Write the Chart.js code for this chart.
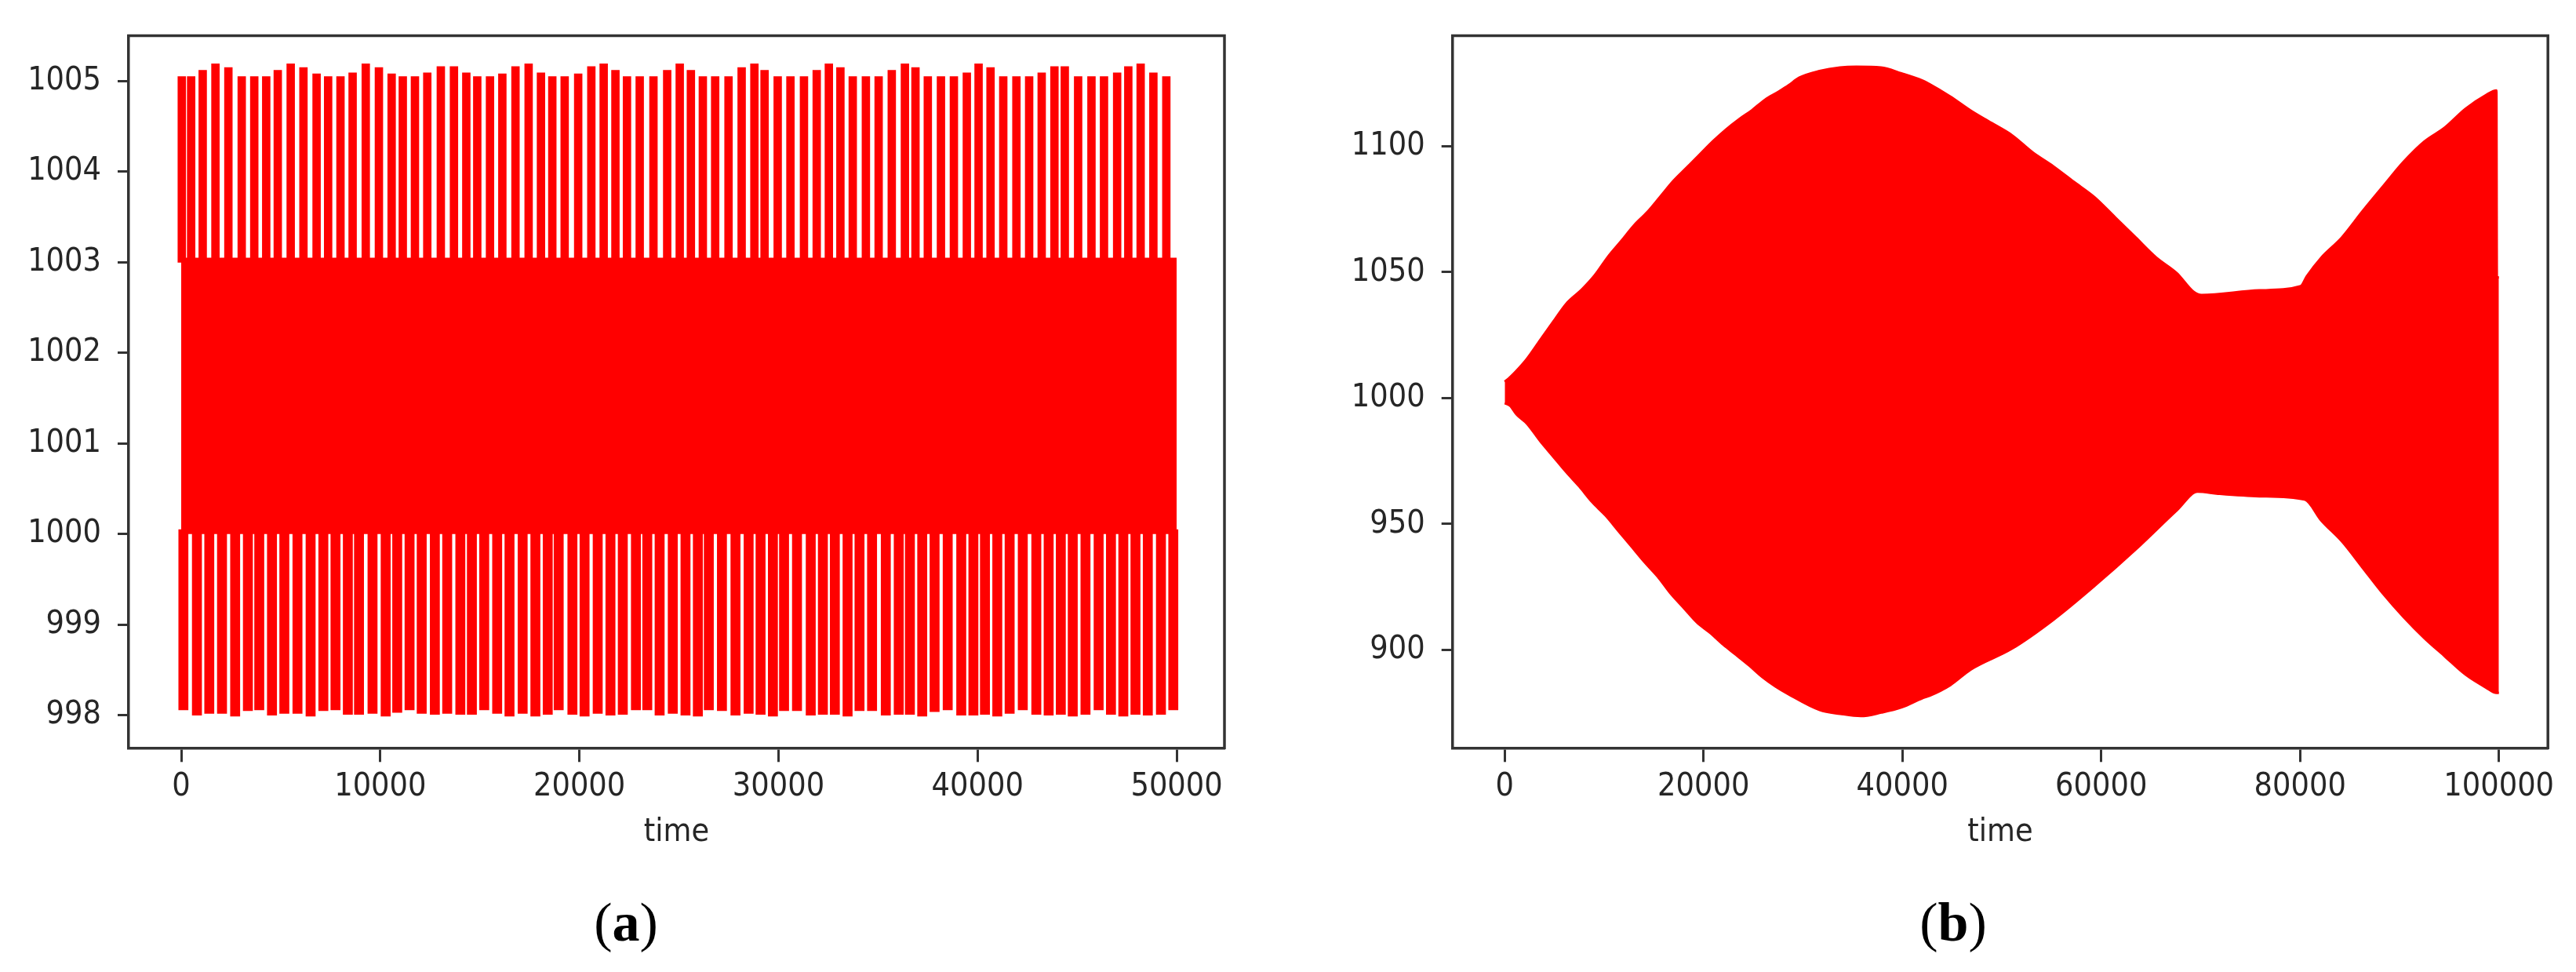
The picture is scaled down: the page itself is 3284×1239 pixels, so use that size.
<!DOCTYPE html>
<html>
<head>
<meta charset="utf-8">
<script src="https://cdn.jsdelivr.net/npm/chart.js@4.4.1/dist/chart.umd.min.js"></script>
<style>
  html, body { margin: 0; padding: 0; background: #ffffff; width: 3284px; height: 1239px; overflow: hidden; }
  body { position: relative; }
  #wa { position: absolute; left: 0; top: 0; width: 1640px; height: 1120px; }
  #wb { position: absolute; left: 1640px; top: 0; width: 1644px; height: 1120px; }
  .cap { position: absolute; top: 1141px; font-family: 'Liberation Serif', 'Times New Roman', serif; font-size: 70px; line-height: 1; color: #000; white-space: nowrap; transform: translateX(-50%); }
</style>
</head>
<body>
<div id="wa"><canvas id="ca" width="1640" height="1120"></canvas></div>
<div id="wb"><canvas id="cb" width="1644" height="1120"></canvas></div>
<div class="cap" style="left:798px">(<b>a</b>)</div>
<div class="cap" style="left:2490px">(<b>b</b>)</div>
<script>
// ---------------- Panel (a) data ----------------
const timeTicksA = [0, 10000, 20000, 30000, 40000, 50000];
const valueTicksA = [998, 999, 1000, 1001, 1002, 1003, 1004, 1005];

// dense oscillation band (envelope of the fast oscillation)
const bandTimesA = [0, 50000];
const bandUpperA = [1003.05, 1003.05];
const bandLowerA = [1000.0, 1000.0];

// tall upward spikes (time, peak value)
const peakTimesA = [30, 500, 1080, 1720, 2370, 3040, 3670, 4270, 4850, 5500,
  6140, 6800, 7380, 8000, 8610, 9270, 9930, 10570, 11130, 11740,
  12360, 13040, 13700, 14320, 14870, 15510, 16130, 16790, 17450, 18070,
  18640, 19260, 19940, 20600, 21220, 21810, 22390, 23030,
  23720, 24410, 25040, 25600, 26200, 26820, 27490, 28150, 28790, 29300,
  29960, 30600, 31280, 31920, 32530, 33110, 33730, 34390, 35030, 35690,
  36350, 36880, 37500, 38160, 38810, 39460, 40050, 40650, 41290, 41950,
  42590, 43220, 43860, 44380, 45050, 45720, 46350, 47010, 47570, 48190,
  48830, 49480];
const peakValuesA = [1005.05, 1005.05, 1005.12, 1005.19, 1005.15, 1005.05, 1005.05, 1005.05, 1005.12, 1005.19,
  1005.15, 1005.08, 1005.05, 1005.05, 1005.09, 1005.19, 1005.15, 1005.08, 1005.05, 1005.05,
  1005.09, 1005.16, 1005.16, 1005.09, 1005.05, 1005.05, 1005.08, 1005.16, 1005.19, 1005.09,
  1005.05, 1005.05, 1005.08, 1005.16, 1005.19, 1005.12, 1005.05, 1005.05,
  1005.05, 1005.12, 1005.19, 1005.12, 1005.05, 1005.05, 1005.05, 1005.15, 1005.19, 1005.12,
  1005.05, 1005.05, 1005.05, 1005.12, 1005.19, 1005.15, 1005.05, 1005.05, 1005.05, 1005.12,
  1005.19, 1005.15, 1005.05, 1005.05, 1005.05, 1005.09, 1005.19, 1005.15, 1005.05, 1005.05,
  1005.05, 1005.09, 1005.16, 1005.16, 1005.05, 1005.05, 1005.05, 1005.09, 1005.16, 1005.19,
  1005.09, 1005.05];

// deep downward spikes (time, trough value)
const troughTimesA = [110, 790, 1410, 2050, 2710, 3350, 3920, 4560, 5180, 5840,
  6500, 7140, 7750, 8370, 8930, 9610, 10270, 10850, 11470, 12080,
  12740, 13360, 14020, 14600, 15220, 15870, 16490, 17150, 17790, 18410,
  18960, 19650, 20260, 20920, 21560, 22180, 22840,
  23410, 24030, 24690, 25330, 25950, 26500, 27160, 27840, 28500, 29100,
  29720, 30280, 30930, 31620, 32230, 32830, 33470, 34070, 34700, 35390,
  36040, 36600, 37220, 37840, 38500, 39180, 39790, 40370, 40990, 41610,
  42270, 42950, 43570, 44180, 44780, 45420, 46080, 46700, 47320, 47930,
  48550, 49210, 49830];
const troughValuesA = [998.06, 998.00, 998.02, 998.02, 997.99, 998.05, 998.06, 998.00, 998.02, 998.02,
  997.99, 998.05, 998.06, 998.01, 998.01, 998.02, 997.99, 998.03, 998.06, 998.02,
  998.01, 998.02, 998.01, 998.01, 998.06, 998.02, 997.99, 998.02, 997.99, 998.01,
  998.06, 998.01, 997.99, 998.02, 998.00, 998.01, 998.06,
  998.06, 998.00, 998.02, 998.00, 997.99, 998.06, 998.05, 998.00, 998.02, 998.01,
  997.99, 998.05, 998.05, 998.00, 998.01, 998.01, 997.99, 998.05, 998.05, 998.00,
  998.01, 998.01, 997.99, 998.04, 998.06, 998.00, 998.00, 998.01, 997.99, 998.02,
  998.06, 998.01, 998.00, 998.01, 997.99, 998.01, 998.06, 998.01, 997.99, 998.01,
  998.00, 998.01, 998.06];

// ---------------- Panel (b) data ----------------
const timeTicksB = [0, 20000, 40000, 60000, 80000, 100000];
const valueTicksB = [900, 950, 1000, 1050, 1100];

const upperTimesB = [0, 529, 1184, 2241, 3551, 4868, 6186, 7764, 9073, 10391,
  11709, 13018, 14336, 15654, 16963, 18281, 19599, 20908, 22226, 23544,
  24853, 26171, 27489, 28538, 29596, 31662, 33722, 35370, 37848, 39908,
  41976, 42740, 44815, 46882, 48957, 51032, 53107, 55175, 57250, 59325,
  61401, 63468, 65543, 67618, 69275, 70104, 75909, 80062, 80677, 82129,
  84204, 86279, 88346, 90422, 92496, 94571, 96639, 98714, 99755, 99800, 100000];
const upperValuesB = [1006.5, 1008.3, 1010.9, 1015.7, 1023.0, 1030.3, 1037.5, 1043.2, 1048.9, 1056.2,
  1062.4, 1068.7, 1073.9, 1080.1, 1086.3, 1091.5, 1096.7, 1101.9, 1106.6, 1110.7,
  1114.3, 1118.5, 1121.6, 1124.2, 1127.2, 1129.9, 1131.3, 1131.6, 1131.3, 1129.0,
  1126.2, 1124.7, 1119.8, 1114.2, 1109.3, 1104.4, 1097.6, 1092.1, 1085.9, 1079.8,
  1071.8, 1063.8, 1055.8, 1049.6, 1042.3, 1041.0, 1042.8, 1044.5, 1048.4, 1055.8,
  1063.8, 1074.2, 1084.1, 1093.9, 1101.9, 1107.5, 1114.9, 1120.4, 1122.2, 1048.0, 1048.0];

const lowerTimesB = [0, 529, 1184, 2241, 3551, 4868, 6186, 7496, 8813, 10131,
  11441, 12758, 14076, 15386, 16703, 18021, 19331, 20648, 21966, 23276,
  24593, 25911, 27221, 28538, 31686, 33753, 35813, 37879, 39939, 42007,
  42740, 44815, 46882, 51032, 55175, 59325, 63468, 67618, 69693, 71758,
  75909, 80469, 82129, 84204, 86279, 88346, 90422, 92496, 94571, 96639,
  98714, 99755, 100000];
const lowerValuesB = [998.0, 997.0, 993.5, 989.8, 983.0, 976.8, 970.6, 964.9, 958.6, 953.4,
  947.2, 941.0, 934.8, 929.1, 922.3, 916.6, 910.9, 906.8, 902.1, 898.0,
  893.8, 889.2, 885.5, 882.4, 876.1, 874.6, 873.7, 875.1, 877.2, 880.8,
  881.8, 886.0, 892.2, 900.5, 911.9, 925.4, 939.9, 955.5, 962.8, 962.0,
  961.0, 959.7, 951.4, 943.1, 932.7, 922.3, 913.0, 904.7, 897.4, 890.2,
  885.0, 882.9, 882.9];

// ---------------- styling ----------------
const RED = '#ff0000';
const INK = '#262626';
const SPINE = '#333333';
const FONT = { family: "'DejaVu Sans Condensed', 'DejaVu Sans', sans-serif", size: 41 };

const zip = (xs, ys) => xs.map((x, i) => ({ x: x, y: ys[i] }));

const framePlugin = {
  id: 'frame',
  afterDraw(chart) {
    const { ctx, chartArea: a } = chart;
    ctx.save();
    ctx.strokeStyle = SPINE;
    ctx.lineWidth = 3.5;
    ctx.beginPath();
    ctx.moveTo(a.left - 1.75, a.top);
    ctx.lineTo(a.right, a.top);
    ctx.lineTo(a.right, a.bottom + 1.75);
    ctx.stroke();
    ctx.restore();
  }
};

function scalesFor(xMin, xMax, xTicks, yMin, yMax, yTicks, yWidth) {
  return {
    x: {
      type: 'linear', min: xMin, max: xMax, offset: false,
      afterBuildTicks: s => { s.ticks = xTicks.map(v => ({ value: v })); },
      afterFit: s => { s.height = 166.7; },
      grid: { display: true, drawOnChartArea: false, drawTicks: true, tickLength: 18, tickWidth: 3, tickColor: SPINE, offset: false },
      border: { display: true, color: SPINE, width: 3.5 },
      ticks: { font: FONT, color: INK, padding: 7, maxRotation: 0, autoSkip: false, callback: v => String(v) },
      title: { display: true, text: 'time', font: FONT, color: INK, padding: { top: 0, bottom: 34 } }
    },
    y: {
      type: 'linear', min: yMin, max: yMax,
      afterBuildTicks: s => { s.ticks = yTicks.map(v => ({ value: v })); },
      afterFit: s => { s.width = yWidth; },
      grid: { display: true, drawOnChartArea: false, drawTicks: true, tickLength: 14, tickWidth: 3, tickColor: SPINE },
      border: { display: true, color: SPINE, width: 3.5 },
      ticks: { font: FONT, color: INK, padding: 21, autoSkip: false, callback: v => String(v) }
    }
  };
}

const common = {
  responsive: false,
  animation: false,
  devicePixelRatio: 1,
  events: [],
  plugins: { legend: { display: false }, tooltip: { enabled: false } }
};

// ---------------- Chart (a) ----------------
new Chart(document.getElementById('ca'), {
  type: 'line',
  data: {
    datasets: [
      { label: 'band upper', data: zip(bandTimesA, bandUpperA), fill: '+1', backgroundColor: RED, borderWidth: 0, pointRadius: 0, tension: 0 },
      { label: 'band lower', data: zip(bandTimesA, bandLowerA), fill: false, borderWidth: 0, pointRadius: 0, tension: 0 },
      { type: 'bar', label: 'peaks', data: peakTimesA.map((t, i) => ({ x: t, y: [1003.0, peakValuesA[i]] })),
        backgroundColor: RED, borderWidth: 0, barThickness: 10, grouped: false },
      { type: 'bar', label: 'troughs', data: troughTimesA.map((t, i) => ({ x: t, y: [troughValuesA[i], 1000.05] })),
        backgroundColor: RED, borderWidth: 0, barThickness: 12, grouped: false }
    ]
  },
  options: Object.assign({}, common, {
    layout: { padding: { left: 0, top: 45, right: 79, bottom: 0 } },
    scales: scalesFor(-2640, 52400, timeTicksA, 997.64, 1005.5, valueTicksA, 164)
  }),
  plugins: [framePlugin]
});

// ---------------- Chart (b) ----------------
new Chart(document.getElementById('cb'), {
  type: 'line',
  data: {
    datasets: [
      { label: 'upper envelope', data: zip(upperTimesB, upperValuesB), fill: '+1', backgroundColor: RED, borderColor: RED, borderWidth: 3, pointRadius: 0, cubicInterpolationMode: 'monotone' },
      { label: 'lower envelope', data: zip(lowerTimesB, lowerValuesB), fill: false, borderColor: RED, borderWidth: 3, pointRadius: 0, cubicInterpolationMode: 'monotone' }
    ]
  },
  options: Object.assign({}, common, {
    layout: { padding: { left: 0, top: 45, right: 35.8, bottom: 0 } },
    scales: scalesFor(-5255, 104932, timeTicksB, 861.1, 1143.9, valueTicksB, 211.7)
  }),
  plugins: [framePlugin]
});
</script>
</body>
</html>
